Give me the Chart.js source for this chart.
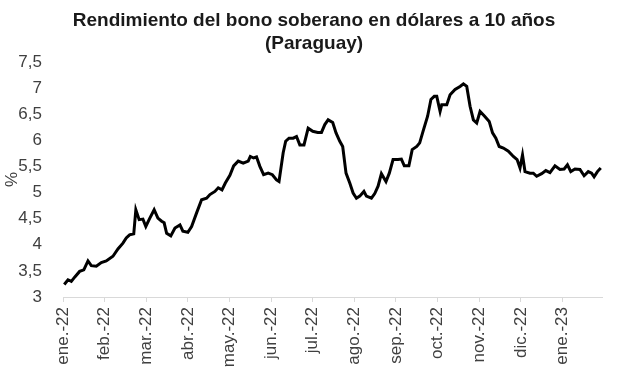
<!DOCTYPE html>
<html>
<head>
<meta charset="utf-8">
<script src="https://cdn.jsdelivr.net/npm/chart.js@4.4.0/dist/chart.umd.min.js"></script>
<style>
  html, body { margin: 0; padding: 0; background: #fff; }
  #wrap { width: 617px; height: 388px; }
</style>
</head>
<body>
<div id="wrap"><canvas id="bono"></canvas></div>
<script>
// etiquetas de meses del eje x
const meses = ['ene.-22', 'feb.-22', 'mar.-22', 'abr.-22', 'may.-22', 'jun.-22', 'jul.-22',
  'ago.-22', 'sep.-22', 'oct.-22', 'nov.-22', 'dic.-22', 'ene.-23'];

// posicion en meses desde ene.-22 (fraccion de mes)
const tiempo = [0.03, 0.12, 0.20, 0.28, 0.40, 0.50, 0.60, 0.68, 0.80, 0.92,
  1.04, 1.20, 1.32, 1.44, 1.52, 1.60, 1.70, 1.75, 1.83, 1.92,
  1.99, 2.08, 2.19, 2.28, 2.37, 2.43, 2.49, 2.59, 2.69, 2.81,
  2.88, 3.00, 3.09, 3.21, 3.33, 3.45, 3.53, 3.65, 3.73, 3.82,
  3.90, 4.01, 4.10, 4.21, 4.33, 4.45, 4.50, 4.58, 4.65, 4.73,
  4.82, 4.93, 5.03, 5.13, 5.19, 5.29, 5.35, 5.43, 5.53, 5.61,
  5.69, 5.79, 5.89, 6.00, 6.12, 6.21, 6.29, 6.37, 6.48, 6.56,
  6.65, 6.72, 6.80, 6.89, 6.97, 7.05, 7.13, 7.23, 7.29, 7.41,
  7.49, 7.57, 7.65, 7.76, 7.84, 7.93, 8.05, 8.13, 8.20, 8.31,
  8.39, 8.50, 8.57, 8.65, 8.76, 8.84, 8.92, 8.98, 9.06, 9.10,
  9.22, 9.30, 9.42, 9.54, 9.62, 9.70, 9.78, 9.86, 9.94, 10.02,
  10.13, 10.24, 10.32, 10.40, 10.48, 10.58, 10.70, 10.82, 10.91, 10.98,
  11.04, 11.10, 11.22, 11.30, 11.38, 11.50, 11.60, 11.70, 11.82, 11.94,
  12.04, 12.12, 12.20, 12.30, 12.42, 12.52, 12.62, 12.70, 12.76, 12.84,
  12.92];

// rendimiento en %
const rendimiento = [3.24, 3.33, 3.30, 3.38, 3.49, 3.52, 3.69, 3.60, 3.59, 3.66,
  3.69, 3.78, 3.92, 4.03, 4.13, 4.19, 4.21, 4.67, 4.48, 4.49,
  4.35, 4.50, 4.67, 4.51, 4.45, 4.42, 4.22, 4.17, 4.32, 4.38,
  4.26, 4.24, 4.35, 4.61, 4.86, 4.89, 4.96, 5.02, 5.09, 5.05,
  5.18, 5.33, 5.51, 5.60, 5.56, 5.60, 5.69, 5.66, 5.68, 5.50,
  5.34, 5.37, 5.34, 5.24, 5.21, 5.76, 5.98, 6.04, 6.04, 6.07,
  5.91, 5.91, 6.23, 6.17, 6.15, 6.15, 6.30, 6.39, 6.34, 6.14,
  5.98, 5.88, 5.37, 5.18, 4.99, 4.89, 4.93, 5.02, 4.93, 4.89,
  4.98, 5.12, 5.36, 5.21, 5.37, 5.63, 5.63, 5.64, 5.51, 5.51,
  5.82, 5.88, 5.95, 6.17, 6.46, 6.78, 6.84, 6.84, 6.55, 6.68,
  6.68, 6.87, 6.97, 7.03, 7.08, 7.03, 6.65, 6.39, 6.33, 6.55,
  6.46, 6.36, 6.14, 6.04, 5.88, 5.85, 5.79, 5.69, 5.63, 5.47,
  5.72, 5.40, 5.37, 5.37, 5.31, 5.36, 5.42, 5.38, 5.51, 5.44,
  5.45, 5.53, 5.40, 5.45, 5.44, 5.32, 5.40, 5.37, 5.30, 5.40,
  5.47];

const tituloLineas = ['Rendimiento del bono soberano en dólares a 10 años', '(Paraguay)'];

const textoGris = '#404040';
const fuente = 'Liberation Sans, Arial, sans-serif';

new Chart(document.getElementById('bono').getContext('2d'), {
  type: 'line',
  data: {
    datasets: [{
      label: 'Rendimiento',
      data: tiempo.map((t, i) => ({ x: t, y: rendimiento[i] })),
      borderColor: '#000000',
      borderWidth: 3,
      pointRadius: 0,
      tension: 0,
      fill: false
    }]
  },
  options: {
    responsive: true,
    maintainAspectRatio: false,
    animation: false,
    layout: { padding: { left: 13, right: 2, top: 0, bottom: 0 } },
    plugins: {
      legend: { display: false },
      tooltip: { enabled: false },
      title: {
        display: true,
        text: tituloLineas,
        color: '#1a1a1a',
        font: { family: fuente, size: 19, weight: 'bold', lineHeight: 1.18 },
        padding: { top: 10, bottom: 7 }
      }
    },
    scales: {
      x: {
        type: 'linear',
        min: 0,
        max: 12.95,
        afterFit: s => { s.height = 91; },
        border: { display: true, color: '#d9d9d9', width: 1 },
        grid: { display: true, drawOnChartArea: false, drawTicks: true, tickLength: 5, color: '#d9d9d9' },
        ticks: {
          stepSize: 1,
          includeBounds: false,
          autoSkip: false,
          minRotation: 90,
          maxRotation: 90,
          padding: 5,
          color: textoGris,
          font: { family: fuente, size: 17 },
          callback: v => meses[v]
        }
      },
      y: {
        min: 3,
        max: 7.5,
        afterFit: s => { s.width = 50; },
        border: { display: false },
        grid: { display: false },
        title: {
          display: true,
          text: '%',
          color: textoGris,
          font: { family: fuente, size: 17 },
          padding: { top: -11, bottom: 0 }
        },
        ticks: {
          stepSize: 0.5,
          padding: 13,
          color: textoGris,
          font: { family: fuente, size: 17 },
          callback: v => String(v).replace('.', ',')
        }
      },
      // eje vacio a la derecha, solo reserva margen
      yDer: {
        position: 'right',
        min: 3,
        max: 7.5,
        afterFit: s => { s.width = 13; },
        border: { display: false },
        grid: { display: false },
        ticks: { display: false }
      }
    }
  }
});
</script>
</body>
</html>
